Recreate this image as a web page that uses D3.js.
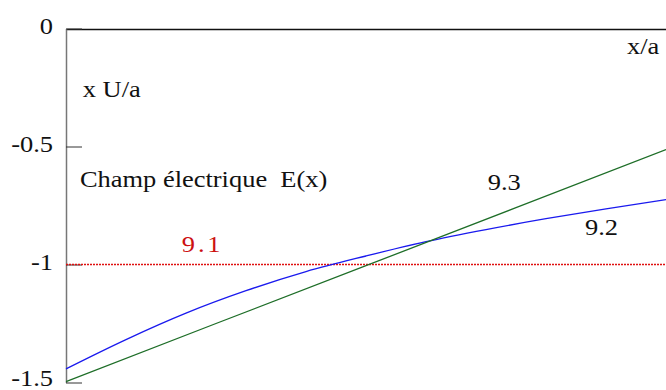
<!DOCTYPE html>
<html>
<head>
<meta charset="utf-8">
<script src="https://cdn.jsdelivr.net/npm/d3@7"></script>
<style>
  body { margin: 0; background: #fff; }
  svg { display: block; }
  svg text { font-family: 'Liberation Serif', 'Times New Roman', Times, 'DejaVu Serif', serif !important; white-space: pre; }
</style>
</head>
<body>
<svg id="chart" width="666" height="390"></svg>
<script>
// x/a positions along the gap
const xs = [0, 0.1, 0.2, 0.3, 0.4, 0.5, 0.6, 0.7, 0.8, 0.9, 1.0];
// curve 9.1 : constant field
const serie91 = [-1, -1, -1, -1, -1, -1, -1, -1, -1, -1, -1];
// curve 9.2 (blue)
const serie92 = [-1.442, -1.318, -1.206, -1.111, -1.030, -0.964, -0.903, -0.852, -0.806, -0.764, -0.725];
// curve 9.3 (green)
const xs93 = [0, 0.25, 0.5, 0.75, 1.0];
const serie93 = [-1.496, -1.250, -1.005, -0.759, -0.513];
const yTicks = [0, -0.5, -1, -1.5];

const svg = d3.select('#chart');
const stretch = 1.15; // text in the original is a bit wide
const fontSize = 23;
const serif = "'Liberation Serif', 'Times New Roman', Times, 'DejaVu Serif', serif";

const x = d3.scaleLinear().domain([0, 1]).range([66, 666]);
const y = d3.scaleLinear().domain([-1.5, 0]).range([382.5, 28.5]);

// top border line
svg.append('g')
    .attr('transform', `translate(0,${y(0) + 0.5})`)
    .call(d3.axisTop(x).ticks(0).tickSizeOuter(0))
    .select('.domain').attr('stroke', '#111').attr('stroke-width', 1.5);

// left axis, ticks pointing inwards
const yAxis = svg.append('g')
    .attr('transform', `translate(${x(0)},0)`)
    .call(d3.axisLeft(y).tickValues(yTicks).tickSize(-16).tickSizeOuter(0).tickFormat(d => String(d)));
yAxis.attr('font-family', serif);
yAxis.select('.domain').attr('stroke', '#777').attr('stroke-width', 1.5);
yAxis.selectAll('.tick line').attr('stroke', '#333');
yAxis.selectAll('.tick text')
    .attr('x', -13 / stretch)
    .attr('dy', d => d === -1.5 ? '0.15em' : '0.22em')
    .attr('transform', `scale(${stretch},1)`)
    .attr('font-size', fontSize)
    .attr('fill', '#111');

const line = (xv) => d3.line().x((d, i) => x(xv[i])).y(d => y(d));

svg.append('path').datum(serie91)
    .attr('d', line(xs))
    .attr('fill', 'none').attr('stroke', '#e01010').attr('stroke-width', 1.6)
    .attr('stroke-dasharray', '2,1');

svg.append('path').datum(serie92)
    .attr('d', line(xs).curve(d3.curveMonotoneX))
    .attr('fill', 'none').attr('stroke', '#1a1aee').attr('stroke-width', 1.3);

svg.append('path').datum(serie93)
    .attr('d', line(xs93))
    .attr('fill', 'none').attr('stroke', '#1e6e28').attr('stroke-width', 1.3);

// annotations
const labels = [
    { t: 'x U/a', x: 0.028, y: -0.290, c: '#111', ls: 0 },
    { t: 'Champ électrique  E(x)', x: 0.0233, y: -0.672, c: '#111', ls: 0 },
    { t: '9.1', x: 0.193, y: -0.947, c: '#cc1111', ls: 2.5 },
    { t: '9.3', x: 0.703, y: -0.684, c: '#111', ls: 0 },
    { t: '9.2', x: 0.865, y: -0.875, c: '#111', ls: 0 },
    { t: 'x/a', x: 0.935, y: -0.108, c: '#111', ls: 0 }
];

svg.selectAll('text.note').data(labels).join('text')
    .attr('class', 'note')
    .attr('transform', d => `translate(${x(d.x)},${y(d.y)}) scale(${stretch},1)`)
    .attr('font-family', serif)
    .attr('font-size', fontSize)
    .attr('letter-spacing', d => d.ls)
    .attr('fill', d => d.c)
    .text(d => d.t);
</script>
</body>
</html>
